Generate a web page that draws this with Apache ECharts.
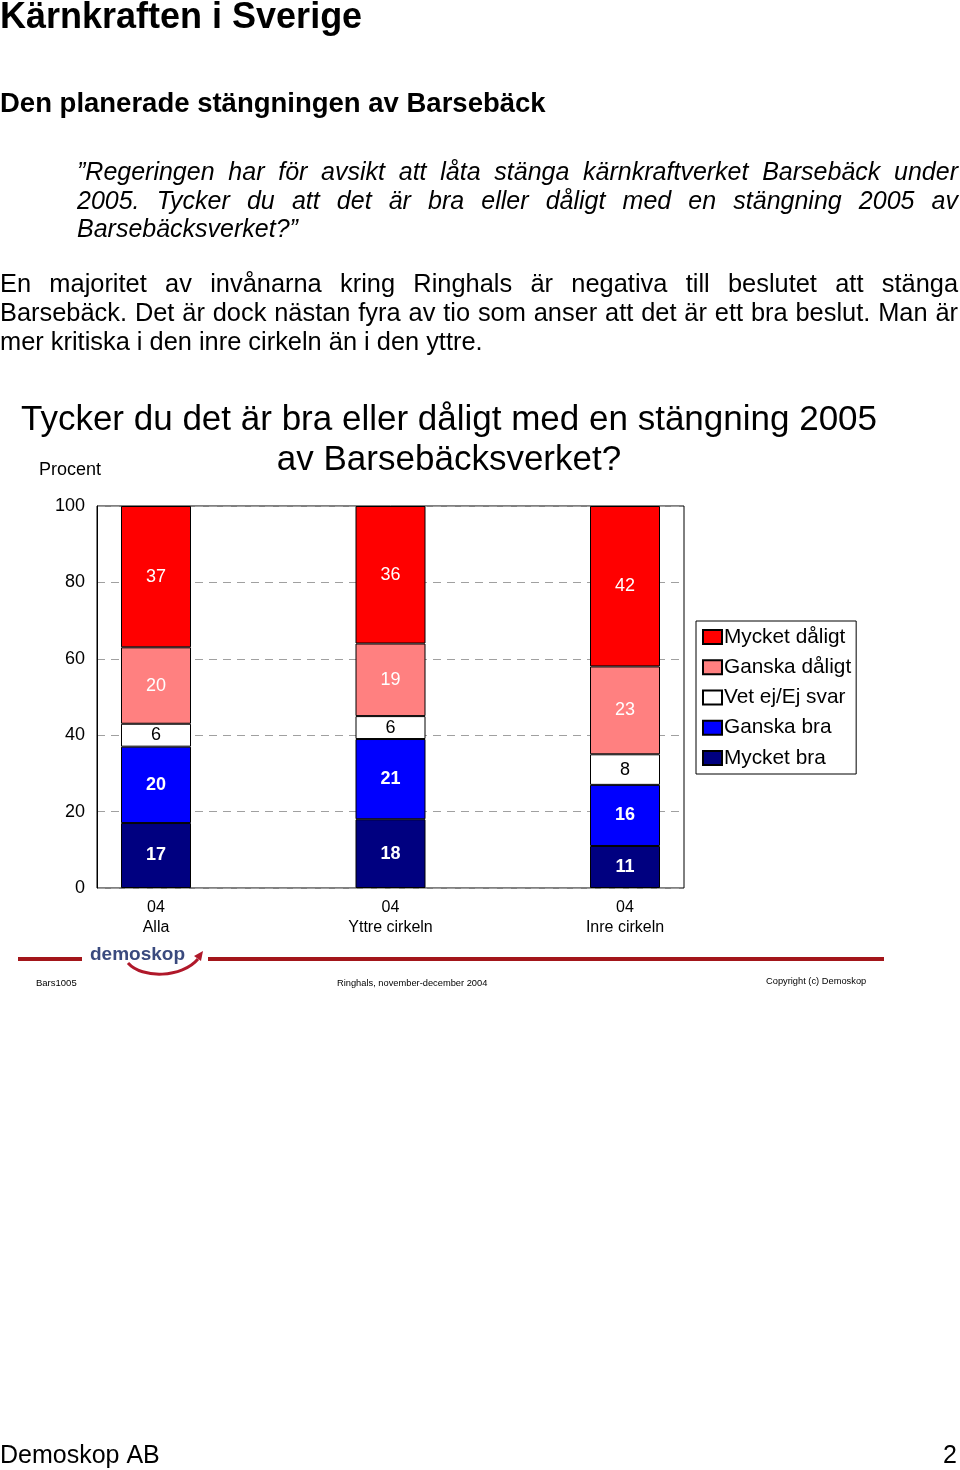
<!DOCTYPE html>
<html>
<head>
<meta charset="utf-8">
<script src="https://cdn.jsdelivr.net/npm/echarts@6/dist/echarts.min.js"></script>
<style>
  html, body { margin: 0; padding: 0; background: #fff; }
  body { width: 960px; height: 1470px; position: relative; overflow: hidden;
         font-family: "Liberation Sans", Arial, Helvetica, sans-serif; color: #000; }
  #chart { position: absolute; left: 0; top: 0; width: 960px; height: 1470px; }
  .txt { position: absolute; white-space: nowrap; }
  .jl { display: block; text-align: justify; text-align-last: justify; white-space: normal; }
  .ll { display: block; text-align: left; }
</style>
</head>
<body>
<div id="chart"></div>
<div class="txt" style="left:0;top:-3px;font-size:36px;font-weight:bold;line-height:38px;">Kärnkraften i Sverige</div>
<div class="txt" style="left:0;top:88px;font-size:27.5px;font-weight:bold;line-height:30px;">Den planerade stängningen av Barsebäck</div>
<div class="txt" style="left:77px;top:157px;width:881px;font-size:25px;font-style:italic;line-height:28.5px;white-space:normal;">
  <span class="jl">”Regeringen har för avsikt att låta stänga kärnkraftverket Barsebäck under</span>
  <span class="jl">2005. Tycker du att det är bra eller dåligt med en stängning 2005 av</span>
  <span class="ll">Barsebäcksverket?”</span>
</div>
<div class="txt" style="left:0;top:269px;width:958px;font-size:25.4px;line-height:29px;white-space:normal;">
  <span class="jl">En majoritet av invånarna kring Ringhals är negativa till beslutet att stänga</span>
  <span class="jl">Barsebäck. Det är dock nästan fyra av tio som anser att det är ett bra beslut. Man är</span>
  <span class="ll">mer kritiska i den inre cirkeln än i den yttre.</span>
</div>
<script>
// ---- data ----
const categories = ['Alla', 'Yttre cirkeln', 'Inre cirkeln'];
const periodLabel = '04';
const mycketBra = [17, 18, 11];
const ganskaBra = [20, 21, 16];
const vetEj = [6, 6, 8];
const ganskaDaligt = [20, 19, 23];
const mycketDaligt = [37, 36, 42];
const yTicks = [0, 20, 40, 60, 80, 100];

const FONT = '"Liberation Sans", Arial, Helvetica, sans-serif';
const chart = echarts.init(document.getElementById('chart'), null, { renderer: 'canvas' });

function mk(name, data, color, labelColor, bold) {
  return {
    name: name, type: 'bar', stack: 'tot', data: data,
    xAxisIndex: 1, yAxisIndex: 1, barWidth: 70,
    itemStyle: { color: color, borderColor: '#000', borderWidth: 1 },
    label: { show: true, position: 'inside', color: labelColor, fontSize: 18,
             fontFamily: FONT, fontWeight: bold ? 'bold' : 'normal' },
    emphasis: { disabled: true }
  };
}

const option = {
  animation: false,
  textStyle: { fontFamily: FONT },
  grid: [
    { left: 97, top: 506, width: 587, height: 382, show: true,
      borderColor: '#000', borderWidth: 1, backgroundColor: 'transparent' },
    { left: 38.75, top: 506, width: 703.5, height: 382 }
  ],
  xAxis: [
    { gridIndex: 0, type: 'category', data: categories, show: false },
    { gridIndex: 1, type: 'category', data: categories,
      axisLine: { show: false }, axisTick: { show: false },
      axisLabel: { color: '#000', fontSize: 16, fontFamily: FONT, lineHeight: 20, margin: 10,
                   formatter: v => periodLabel + '\n' + v } }
  ],
  yAxis: [
    { gridIndex: 0, type: 'value', min: yTicks[0], max: yTicks[yTicks.length - 1], interval: 20,
      axisLine: { show: true, lineStyle: { color: '#000', width: 1 } },
      axisTick: { show: false },
      axisLabel: { color: '#000', fontSize: 18, fontFamily: FONT, margin: 12, padding: [3, 0, 0, 0] },
      splitLine: { show: true, lineStyle: { color: '#a0a0a0', type: [8, 6], width: 1 } } },
    { gridIndex: 1, type: 'value', min: 0, max: 100, interval: 20, show: false,
      splitLine: { show: false } }
  ],
  legend: {
    left: 696, top: 621, orient: 'vertical',
    data: ['Mycket dåligt', 'Ganska dåligt', 'Vet ej/Ej svar', 'Ganska bra', 'Mycket bra'],
    itemWidth: 19, itemHeight: 14, itemGap: 8.25, icon: 'rect',
    padding: [5, 5, 5, 6],
    borderColor: '#000', borderWidth: 1,
    textStyle: { fontSize: 20.8, color: '#000', fontFamily: FONT, lineHeight: 22, padding: [0, 0, 0, -3] },
    selectedMode: false
  },
  series: [
    mk('Mycket bra', mycketBra, '#000080', '#fff', true),
    mk('Ganska bra', ganskaBra, '#0000ff', '#fff', true),
    mk('Vet ej/Ej svar', vetEj, '#ffffff', '#000', false),
    mk('Ganska dåligt', ganskaDaligt, '#ff8080', '#fff', false),
    mk('Mycket dåligt', mycketDaligt, '#ff0000', '#fff', false)
  ],
  graphic: [
    { type: 'text', x: 449, y: 420, style: { text: 'Tycker du det är bra eller dåligt med en stängning 2005',
      fontSize: 35, fontFamily: FONT, fill: '#000', textAlign: 'center', textVerticalAlign: 'middle' } },
    { type: 'text', x: 449, y: 460, style: { text: 'av Barsebäcksverket?',
      fontSize: 35, fontFamily: FONT, fill: '#000', textAlign: 'center', textVerticalAlign: 'middle' } },
    { type: 'text', x: 39, y: 470, style: { text: 'Procent', fontSize: 18, fontFamily: FONT, fill: '#000',
      textAlign: 'left', textVerticalAlign: 'middle' } },
    // footer lines
    { type: 'rect', shape: { x: 18, y: 957, width: 64, height: 4 }, style: { fill: '#a3161a' } },
    { type: 'rect', shape: { x: 208, y: 957, width: 676, height: 4 }, style: { fill: '#a3161a' } },
    { type: 'text', x: 90, y: 955, style: { text: 'demoskop', fontSize: 19, fontWeight: 'bold', fontFamily: FONT,
      fill: '#3a4a7e', textAlign: 'left', textVerticalAlign: 'middle' } },
    { type: 'bezierCurve', shape: { x1: 128, y1: 963, cpx1: 142, cpy1: 979, cpx2: 182, cpy2: 978, x2: 198, y2: 959 },
      style: { stroke: '#b0182a', lineWidth: 3, fill: null } },
    { type: 'polygon', shape: { points: [[194, 956], [203, 951], [201, 961]] }, style: { fill: '#b0182a' } },
    { type: 'text', x: 36, y: 983, style: { text: 'Bars1005', fontSize: 9.5, fontFamily: FONT, fill: '#000',
      textAlign: 'left', textVerticalAlign: 'middle' } },
    { type: 'text', x: 337, y: 983, style: { text: 'Ringhals, november-december 2004', fontSize: 9.3, fontFamily: FONT, fill: '#000',
      textAlign: 'left', textVerticalAlign: 'middle' } },
    { type: 'text', x: 766, y: 981, style: { text: 'Copyright (c) Demoskop', fontSize: 9.3, fontFamily: FONT, fill: '#000',
      textAlign: 'left', textVerticalAlign: 'middle' } },
    { type: 'text', x: 0, y: 1456, style: { text: 'Demoskop AB', fontSize: 25, fontFamily: FONT, fill: '#000',
      textAlign: 'left', textVerticalAlign: 'middle' } },
    { type: 'text', x: 957, y: 1456, style: { text: '2', fontSize: 25, fontFamily: FONT, fill: '#000',
      textAlign: 'right', textVerticalAlign: 'middle' } }
  ]
};
chart.setOption(option);
</script>
</body>
</html>
